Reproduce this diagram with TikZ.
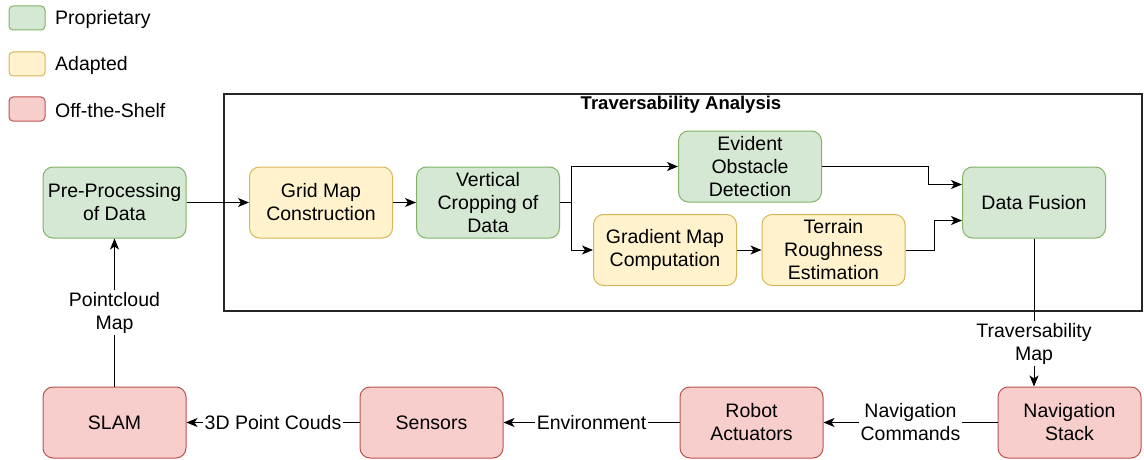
\documentclass[tikz,border=0pt]{standalone}
\usepackage{fontspec}
\setmainfont{Liberation Sans}
\usetikzlibrary{arrows.meta,calc}
\definecolor{gfill}{HTML}{D5E8D4}
\definecolor{gdraw}{HTML}{82B366}
\definecolor{yfill}{HTML}{FFF2CC}
\definecolor{ydraw}{HTML}{D6B656}
\definecolor{rfill}{HTML}{F8CECC}
\definecolor{rdraw}{HTML}{B85450}
\begin{document}
\begin{tikzpicture}[x=1pt,y=-1pt,
  font=\fontsize{19.5}{23}\selectfont,
  box/.style={rounded corners=10pt, line width=1pt, minimum width=143pt, minimum height=71pt, align=center, inner sep=2pt},
  prop/.style={box, fill=gfill, draw=gdraw},
  adap/.style={box, fill=yfill, draw=ydraw},
  offs/.style={box, fill=rfill, draw=rdraw},
  legbox/.style={rounded corners=4pt, line width=1pt, minimum width=36pt, minimum height=24pt, inner sep=0pt},
  legtxt/.style={anchor=west, inner sep=0pt},
  arr/.style={-{Stealth[length=11pt,width=9pt,inset=3pt]}, line width=1pt},
  lbl/.style={fill=white, inner sep=1.5pt, align=center}]
\useasboundingbox (0,0) rectangle (1144,460);

% legend
\node[legbox, fill=gfill, draw=gdraw] (lg1) at (27,18) {};
\node[legtxt] (lt1) at (55,19.5) {Proprietary};
\node[legbox, fill=yfill, draw=ydraw] (lg2) at (27,64) {};
\node[legtxt] (lt2) at (55,65.5) {Adapted};
\node[legbox, fill=rfill, draw=rdraw] (lg3) at (27,109) {};
\node[legtxt] (lt3) at (55,110.5) {Off-the-Shelf};

% traversability analysis frame
\draw[line width=1.1pt, draw=black!85] (224,94) rectangle (1142,311);
\node[font=\fontsize{18.5}{22}\selectfont\bfseries] (ttl) at (681,105) {Traversability Analysis};

% nodes
\node[prop] (pre) at (114.5,202.5) {Pre-Processing\\of Data};
\node[adap] (grid) at (321,202.5) {Grid Map\\Construction};
\node[prop] (vert) at (488,202.5) {Vertical\\Cropping of\\Data};
\node[prop] (evid) at (750,166.5) {Evident\\Obstacle\\Detection};
\node[adap] (grad) at (665,250) {Gradient Map\\Computation};
\node[adap] (terr) at (833.5,250) {Terrain\\Roughness\\Estimation};
\node[prop] (fus) at (1034,202.5) {Data Fusion};

\node[offs] (slam) at (114.5,422.5) {SLAM};
\node[offs] (sens) at (431.5,422.5) {Sensors};
\node[offs] (robot) at (751.5,422.5) {Robot\\Actuators};
\node[offs] (nav) at (1069.5,422.5) {Navigation\\Stack};

% connectors
\draw[arr] (pre) -- (grid);
\draw[arr] (grid) -- (vert);
\draw[arr] (vert.east) -- ++(11,0) |- (evid.west);
\draw[arr] (vert.east) -- ++(11,0) |- (grad.west);
\draw[arr] (grad) -- (terr);
\draw[arr] (evid.east) -- (928,166.5) |- ($(fus.west)+(0,-18)$);
\draw[arr] (terr.east) -- (934,250) |- ($(fus.west)+(0,18)$);
\draw[arr] (fus.south) -- node[lbl, pos=0.71] {Traversability\\Map} (fus.south |- nav.north);
\draw[arr] (nav.west) -- node[lbl] {Navigation\\Commands} (robot.east);
\draw[arr] (robot.west) -- node[lbl] {Environment} (sens.east);
\draw[arr] (sens.west) -- node[lbl] {3D Point Couds} (slam.east);
\draw[arr] (slam.north) -- node[lbl] {Pointcloud\\Map} (pre.south);
\end{tikzpicture}
\end{document}
